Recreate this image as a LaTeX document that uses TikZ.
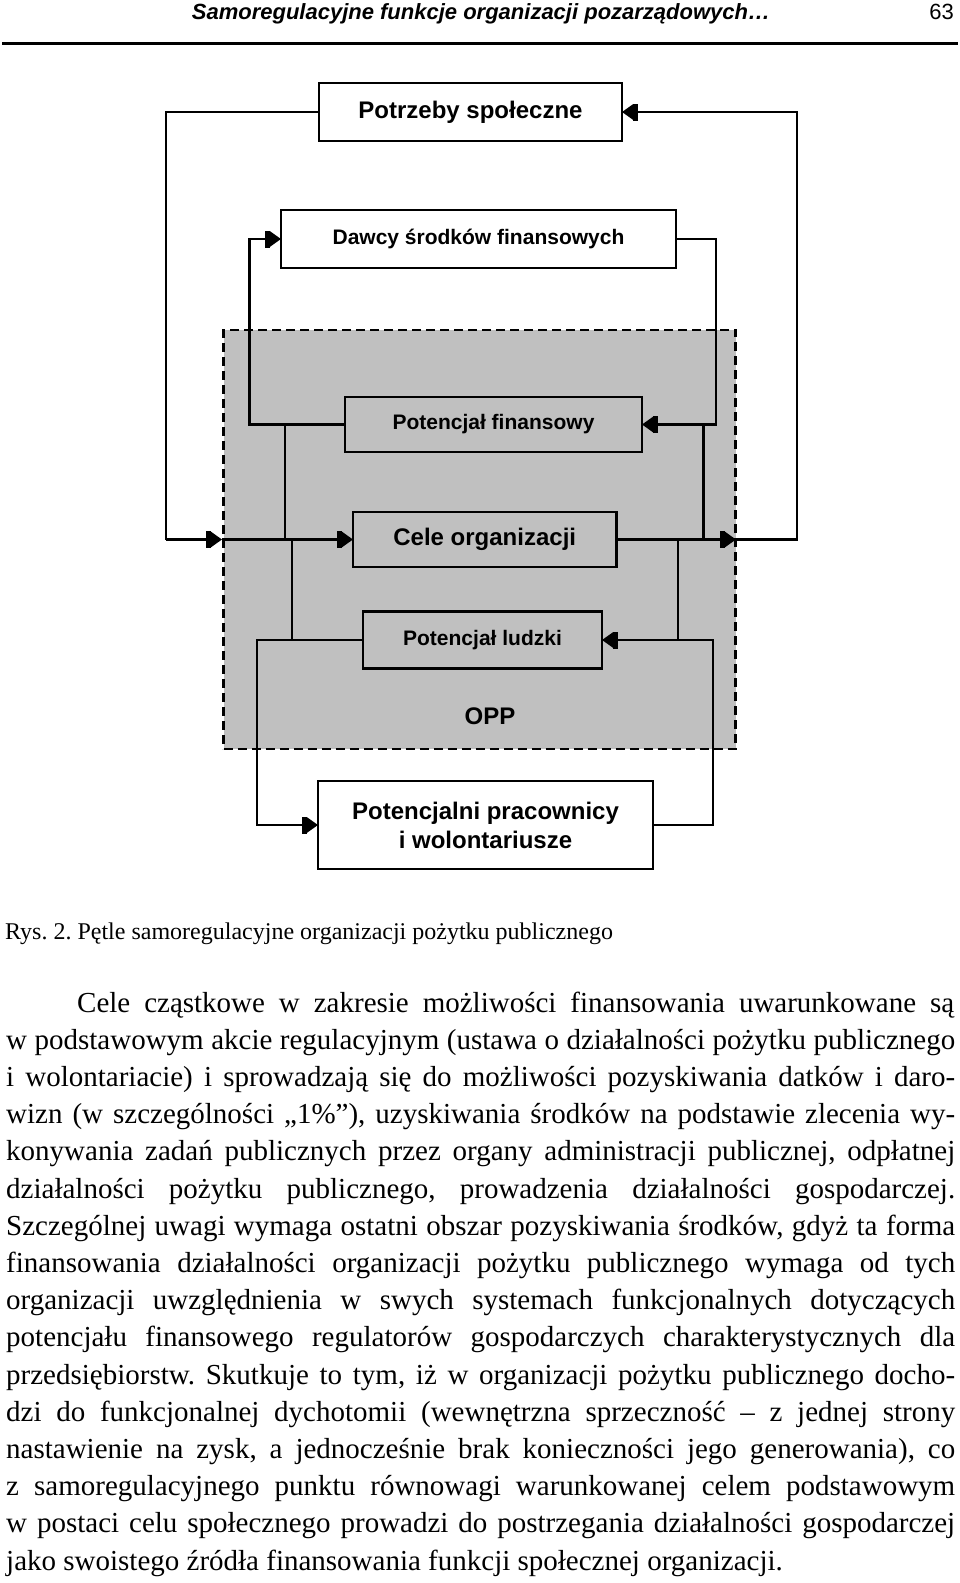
\documentclass[tikz,border=0pt]{standalone}
\usepackage{fontspec}
\setmainfont{Liberation Serif}
\newfontfamily\arial{Liberation Sans}
\usetikzlibrary{arrows.meta,shadows}
\definecolor{oppgray}{RGB}{192,192,192}
\frenchspacing
\begin{document}
\begin{tikzpicture}[x=1pt,y=-1pt,
  conn/.style={line width=2.2pt},
  arrowed/.style={-{Rectangle[length=5pt,width=17pt,sep=0pt]Triangle[length=11pt,width=15pt,sep=0pt]}},
  wbox/.style={draw, line width=2.4pt, fill=white, inner sep=0pt, outer sep=0pt,
    drop shadow={opacity=1,fill=black,shadow xshift=1.4pt,shadow yshift=-1.4pt}},
  gbox/.style={draw, line width=2.4pt, fill=oppgray, inner sep=0pt, outer sep=0pt},
  big/.style={font=\arial\bfseries\fontsize{24}{29}\selectfont},
  small/.style={font=\arial\bfseries\fontsize{21}{25}\selectfont},
  body/.style={anchor=base west, inner sep=0pt, font=\fontsize{29}{37}\selectfont},
]
\useasboundingbox[fill=white] (0,0) rectangle (960,1583);

% header
\node[anchor=base, inner sep=0pt, font=\arial\bfseries\itshape\fontsize{22}{26}\selectfont] (head) at (481,19.5) {Samoregulacyjne funkcje organizacji pozarządowych…};
\node[anchor=base east, inner sep=0pt, font=\arial\fontsize{22}{26}\selectfont] (pageno) at (954,19.5) {63};
\coordinate (rl) at (2,43);
\coordinate (rr) at (958,43);
\draw[line width=3pt] (rl) -- (rr);

% OPP frame
\node[draw, dash pattern=on 9pt off 5pt, line width=2.5pt, fill=oppgray, inner sep=0pt,
  minimum width=512pt, minimum height=419pt] (frame) at (479.7,539.5) {};
\node[big, inner sep=0pt] (opp) at (490,716) {OPP};

% boxes
\node[wbox,big,minimum width=303pt,minimum height=58pt] (potrzeby) at (470.5,112) {Potrzeby społeczne};
\node[wbox,small,minimum width=395pt,minimum height=58pt] (dawcy) at (478.5,239) {Dawcy środków finansowych};
\node[gbox,small,minimum width=297pt,minimum height=55pt] (potfin) at (493.5,424.5) {Potencjał finansowy};
\node[gbox,big,minimum width=263.5pt,minimum height=55pt] (cele) at (484.75,539.5) {Cele organizacji};
\node[gbox,small,minimum width=239pt,minimum height=57pt] (potl) at (482.5,640) {Potencjał ludzki};
\node[wbox,big,align=center,minimum width=335pt,minimum height=88pt] (potenc) at (485.5,825) {Potencjalni pracownicy\\i wolontariusze};

% coordinates
\coordinate (ol) at (166,539.5);
\coordinate (dl) at (222,539.5);
\coordinate (dr) at (736,539.5);
\coordinate (or) at (797,539.5);
\coordinate (fl) at (249.5,424.5);
\coordinate (fr) at (716,424.5);
\coordinate (ll) at (256.6,640);
\coordinate (lr) at (712.7,640);
\coordinate (j1) at (284.7,0);
\coordinate (j2) at (703.5,0);
\coordinate (j3) at (292,0);
\coordinate (j4) at (677.6,0);

% outer loop
\draw[conn] (potrzeby.west) -| (ol);
\draw[conn,arrowed] (ol) -- (dl);
\draw[conn,arrowed] (dl) -- (cele.west);
\draw[conn,arrowed] (cele.east) -- (dr);
\draw[conn,arrowed] (dr) -- (or) |- (potrzeby.east);

% financial loop
\draw[conn,arrowed] (potfin.west) -- (fl) |- (dawcy.west);
\draw[conn,arrowed] (dawcy.east) -| (fr) -- (potfin.east);

% human loop
\draw[conn,arrowed] (potl.west) -- (ll) |- (potenc.west);
\draw[conn,arrowed] (potenc.east) -| (lr) -- (potl.east);

% junctions
\draw[conn] (j1 |- potfin.west) -- (j1 |- cele.west);
\draw[conn] (j2 |- potfin.east) -- (j2 |- cele.east);
\draw[conn] (j3 |- cele.west) -- (j3 |- potl.west);
\draw[conn] (j4 |- cele.east) -- (j4 |- potl.east);

% caption
\node[anchor=base west, inner sep=0pt, font=\fontsize{24}{28}\selectfont] (cap) at (5,939) {Rys. 2. Pętle samoregulacyjne organizacji pożytku publicznego};

% body text
\node[body] (t1) at (77,1012) {\makebox[877pt][s]{Cele cząstkowe w zakresie możliwości finansowania uwarunkowane są}};
\node[body] (t2) at (6,1049.2) {\makebox[949pt][s]{w podstawowym akcie regulacyjnym (ustawa o działalności pożytku publicznego}};
\node[body] (t3) at (6,1086.4) {\makebox[949pt][s]{i wolontariacie) i sprowadzają się do możliwości pozyskiwania datków i daro-}};
\node[body] (t4) at (6,1123.6) {\makebox[949pt][s]{wizn (w szczególności „1\%”), uzyskiwania środków na podstawie zlecenia wy-}};
\node[body] (t5) at (6,1160.8) {\makebox[949pt][s]{konywania zadań publicznych przez organy administracji publicznej, odpłatnej}};
\node[body] (t6) at (6,1198) {\makebox[949pt][s]{działalności pożytku publicznego, prowadzenia działalności gospodarczej.}};
\node[body] (t7) at (6,1235.2) {\makebox[949pt][s]{Szczególnej uwagi wymaga ostatni obszar pozyskiwania środków, gdyż ta forma}};
\node[body] (t8) at (6,1272.4) {\makebox[949pt][s]{finansowania działalności organizacji pożytku publicznego wymaga od tych}};
\node[body] (t9) at (6,1309.6) {\makebox[949pt][s]{organizacji uwzględnienia w swych systemach funkcjonalnych dotyczących}};
\node[body] (t10) at (6,1346.8) {\makebox[949pt][s]{potencjału finansowego regulatorów gospodarczych charakterystycznych dla}};
\node[body] (t11) at (6,1384) {\makebox[949pt][s]{przedsiębiorstw. Skutkuje to tym, iż w organizacji pożytku publicznego docho-}};
\node[body] (t12) at (6,1421.2) {\makebox[949pt][s]{dzi do funkcjonalnej dychotomii (wewnętrzna sprzeczność – z jednej strony}};
\node[body] (t13) at (6,1458.4) {\makebox[949pt][s]{nastawienie na zysk, a jednocześnie brak konieczności jego generowania), co}};
\node[body] (t14) at (6,1495.6) {\makebox[949pt][s]{z samoregulacyjnego punktu równowagi warunkowanej celem podstawowym}};
\node[body] (t15) at (6,1532.8) {\makebox[949pt][s]{w postaci celu społecznego prowadzi do postrzegania działalności gospodarczej}};
\node[body] (t16) at (6,1570) {jako swoistego źródła finansowania funkcji społecznej organizacji.};
\end{tikzpicture}
\end{document}
